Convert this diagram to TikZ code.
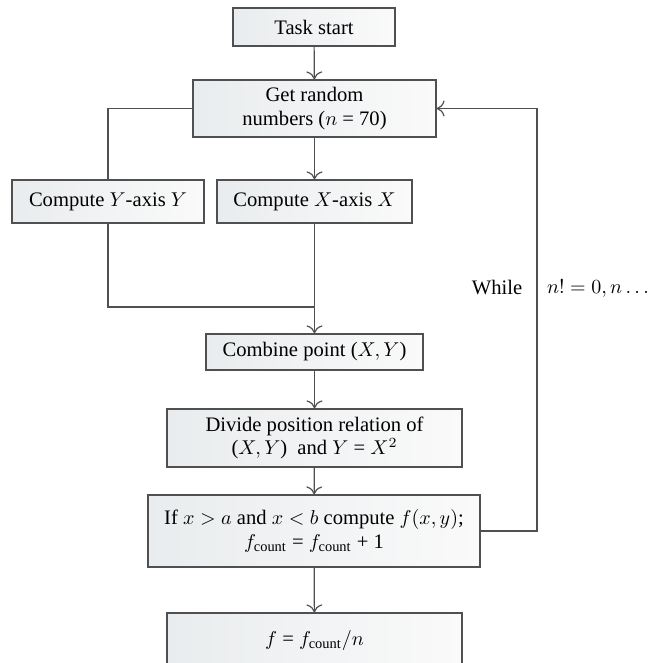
\documentclass[tikz,border=0pt]{standalone}
\usepackage{fontspec}
\setmainfont{Liberation Serif}
\usetikzlibrary{arrows.meta}
\definecolor{boxgray}{RGB}{233,236,238}
\definecolor{boxwhite}{RGB}{250,250,250}
\definecolor{linegray}{RGB}{80,80,80}
\begin{document}
\begin{tikzpicture}[x=0.5pt,y=-0.5pt,
    box/.style={draw=linegray,line width=0.6pt,left color=boxgray,right color=boxwhite,
      align=center,inner sep=0pt,font=\fontsize{10.3}{11.6}\selectfont},
    flow/.style={draw=linegray,line width=0.6pt},
    arr/.style={flow,-{To[length=4pt,width=8pt]}}]
      \useasboundingbox (0,0) rectangle (662,663);
      \node[box,minimum width=81pt,minimum height=19pt] (start) at (314,27) {Task start};
      \node[box,minimum width=121.5pt,minimum height=28.5pt] (rand) at (314.5,108.5)
        {Get random\\numbers ($n$ = 70)};
      \node[box,minimum width=96pt,minimum height=21.5pt] (compY) at (108,201.5)
        {Compute $Y$-axis $Y$};
      \node[box,minimum width=97.5pt,minimum height=21.5pt] (compX) at (314.5,201.5)
        {Compute $X$-axis $X$};
      \node[box,minimum width=108.5pt,minimum height=18pt] (comb) at (314.5,352)
        {Combine point ($X, Y$)};
      \node[box,minimum width=147.5pt,minimum height=29pt] (div) at (314.5,438)
        {Divide position relation of\\($X, Y$)\ \ and $Y$ = $X^2$};
      \node[box,minimum width=166pt,minimum height=36pt] (cond) at (314,531)
        {If $x > a$ and $x < b$ compute $f(x, y)$;\\$f_{\mathrm{count}}$ = $f_{\mathrm{count}}$ + 1};
      \node[box,minimum width=147.5pt,minimum height=27pt] (res) at (314.5,640)
        {$f$ = $f_{\mathrm{count}}/n$};
      \coordinate (join) at (314.5,307);
      \coordinate (loop) at (537,531);
      \node[font=\fontsize{10.3}{11.6}\selectfont] (while) at (497,288) {While};
      \node[font=\fontsize{10.3}{11.6}\selectfont] (cnd) at (598,288) {$n! = 0, n\ldots$};
      % main flow
      \draw[arr] (start) -- (rand);
      \draw[arr] (rand) -- (compX);
      \draw[flow] (rand.west) -| (compY.north);
      \draw[flow] (compY.south) |- (join);
      \draw[arr] (compX.south) -- (comb.north);
      \draw[arr] (comb) -- (div);
      \draw[arr] (div) -- (cond);
      \draw[arr] (cond) -- (res);
      % loop back
      \draw[arr] (cond.east) -- (loop) |- (rand.east);
\end{tikzpicture}
\end{document}
